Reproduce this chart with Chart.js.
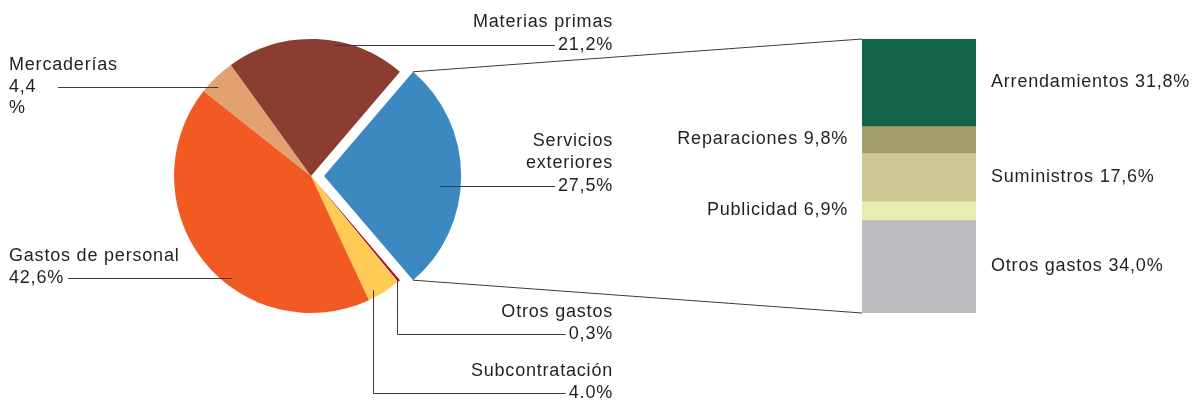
<!DOCTYPE html>
<html>
<head>
<meta charset="utf-8">
<script src="https://cdn.jsdelivr.net/npm/chart.js@4/dist/chart.umd.min.js"></script>
<style>
  html, body { margin: 0; padding: 0; background: #fff; }
  #wrap { position: relative; width: 1193px; height: 400px; }
  #wrap canvas { position: absolute; left: 0; top: 0; }
</style>
</head>
<body>
<div id="wrap">
  <canvas id="pieChart" width="1193" height="400"></canvas>
  <canvas id="barChart" width="1193" height="400"></canvas>
</div>
<script>
  // pie: gastos por naturaleza (%)
  const pieLabels = ['Servicios exteriores', 'Otros gastos', 'Subcontratación', 'Gastos de personal', 'Mercaderías', 'Materias primas'];
  const pieValues = [27.5, 0.3, 4.0, 42.6, 4.4, 21.2];
  const pieText = [
    ['Servicios', 'exteriores', '27,5%'],
    ['Otros gastos', '0,3%'],
    ['Subcontratación', '4.0%'],
    ['Gastos de personal', '42,6%'],
    ['Mercaderías', '4,4', '%'],
    ['Materias primas', '21,2%']
  ];
  const pieColors = ['#3c89c1', '#a8102f', '#fecb55', '#f15a22', '#e2a16f', '#8b3d31'];

  // desglose de servicios exteriores (%)
  const barLabels = ['Arrendamientos', 'Reparaciones', 'Suministros', 'Publicidad', 'Otros gastos'];
  const barValues = [31.8, 9.8, 17.6, 6.9, 34.0];
  const barText = ['Arrendamientos 31,8%', 'Reparaciones 9,8%', 'Suministros 17,6%', 'Publicidad 6,9%', 'Otros gastos 34,0%'];
  const barColors = ['#12654b', '#a49f6d', '#cdc894', '#e7edb0', '#bcbdc1'];

  const FONT = '18px "Liberation Sans", Arial, sans-serif';
  const SPACING = '0.8px';
  const INK = '#231f20';
  const LINE = '#3a3a3a';

  // label placement: t = position along slice angle, r = fraction of radius
  const pieLabelLayout = [
    { t: 0.55, r: 0.85, side: 'right', x: 613, y: [141, 163, 186] },
    { t: 0.5, r: 0.98, side: 'right', x: 613, y: [312, 334], elbow: true },
    { t: 0.75, r: 0.95, side: 'right', x: 613, y: [371, 393], elbow: true },
    { t: 0.41, r: 0.94, side: 'left', x: 9, y: [256, 278], lineX: 68, lineRow: 1 },
    { t: 0.35, r: 0.94, side: 'left', x: 9, y: [65, 87, 108], lineX: 58, lineRow: 1 },
    { t: 0.6, r: 0.97, side: 'right', x: 613, y: [22, 45] }
  ];

  function arcPoint(arc, t, rf) {
    const off = (arc.options.offset || 0) / 4;
    const mid = (arc.startAngle + arc.endAngle) / 2;
    const a = arc.startAngle + t * (arc.endAngle - arc.startAngle);
    const r = arc.outerRadius * rf;
    return {
      x: arc.x + Math.cos(mid) * off + Math.cos(a) * r,
      y: arc.y + Math.sin(mid) * off + Math.sin(a) * r
    };
  }

  function setText(ctx) {
    ctx.font = FONT;
    ctx.letterSpacing = SPACING;
    ctx.fillStyle = INK;
    ctx.textBaseline = 'middle';
  }

  const pieLabelPlugin = {
    id: 'pieLabels',
    afterDraw(chart) {
      const ctx = chart.ctx;
      const arcs = chart.getDatasetMeta(0).data;
      ctx.save();
      setText(ctx);
      ctx.strokeStyle = LINE;
      ctx.lineWidth = 1;
      arcs.forEach((arc, i) => {
        const L = pieLabelLayout[i];
        const lines = pieText[i];
        ctx.textAlign = L.side === 'right' ? 'right' : 'left';
        lines.forEach((s, k) => ctx.fillText(s, L.x, L.y[k]));
        const p = arcPoint(arc, L.t, L.r);
        const row = L.lineRow !== undefined ? L.lineRow : lines.length - 1;
        const ly = L.y[row] + 0.5;
        ctx.beginPath();
        if (L.side === 'right') {
          const endX = L.x - ctx.measureText(lines[row]).width - 3;
          if (L.elbow) {
            ctx.moveTo(Math.round(p.x) + 0.5, p.y);
            ctx.lineTo(Math.round(p.x) + 0.5, ly);
            ctx.lineTo(endX, ly);
          } else {
            ctx.moveTo(p.x, ly);
            ctx.lineTo(endX, ly);
          }
        } else {
          ctx.moveTo(L.lineX, ly);
          ctx.lineTo(p.x, ly);
        }
        ctx.stroke();
      });
      ctx.restore();
    }
  };

  const pieChart = new Chart(document.getElementById('pieChart'), {
    type: 'pie',
    data: {
      labels: pieLabels,
      datasets: [{
        data: pieValues,
        backgroundColor: pieColors,
        borderWidth: 0,
        offset: [52, 0, 0, 0, 0, 0]
      }]
    },
    options: {
      responsive: false,
      animation: false,
      events: [],
      radius: 137,
      rotation: 90 - pieValues[0] * 3.6 / 2,
      layout: { padding: { left: 0, top: 0, right: 571, bottom: 48 } },
      plugins: { legend: { display: false }, tooltip: { enabled: false } }
    },
    plugins: [pieLabelPlugin]
  });

  const barLabelPlugin = {
    id: 'barLabels',
    afterDraw(chart) {
      const ctx = chart.ctx;
      const area = chart.chartArea;
      ctx.save();
      setText(ctx);
      chart.data.datasets.forEach((ds, i) => {
        const el = chart.getDatasetMeta(i).data[0];
        const mid = (el.y + el.base) / 2;
        if (i % 2 === 0) {
          ctx.textAlign = 'left';
          ctx.fillText(barText[i], area.right + 15, mid);
        } else {
          ctx.textAlign = 'right';
          ctx.fillText(barText[i], area.left - 14, mid);
        }
      });
      // connectors from the exploded slice to the bar
      const arc = pieChart.getDatasetMeta(0).data[0];
      const a = arcPoint(arc, 0, 1);
      const b = arcPoint(arc, 1, 1);
      ctx.strokeStyle = LINE;
      ctx.lineWidth = 1;
      ctx.beginPath();
      ctx.moveTo(a.x, a.y);
      ctx.lineTo(area.left, area.top);
      ctx.moveTo(b.x, b.y);
      ctx.lineTo(area.left, area.bottom);
      ctx.stroke();
      ctx.restore();
    }
  };

  const barTotal = barValues.reduce((s, v) => s + v, 0);

  new Chart(document.getElementById('barChart'), {
    type: 'bar',
    data: {
      labels: [''],
      datasets: barLabels.map((l, i) => ({
        label: l,
        data: [barValues[i]],
        backgroundColor: barColors[i],
        borderWidth: 0,
        barPercentage: 1,
        categoryPercentage: 1
      }))
    },
    options: {
      responsive: false,
      animation: false,
      events: [],
      layout: { padding: { left: 862, right: 217, top: 39, bottom: 87 } },
      scales: {
        x: { display: false, stacked: true },
        y: { display: false, stacked: true, reverse: true, min: 0, max: barTotal }
      },
      plugins: { legend: { display: false }, tooltip: { enabled: false } }
    },
    plugins: [barLabelPlugin]
  });
</script>
</body>
</html>
